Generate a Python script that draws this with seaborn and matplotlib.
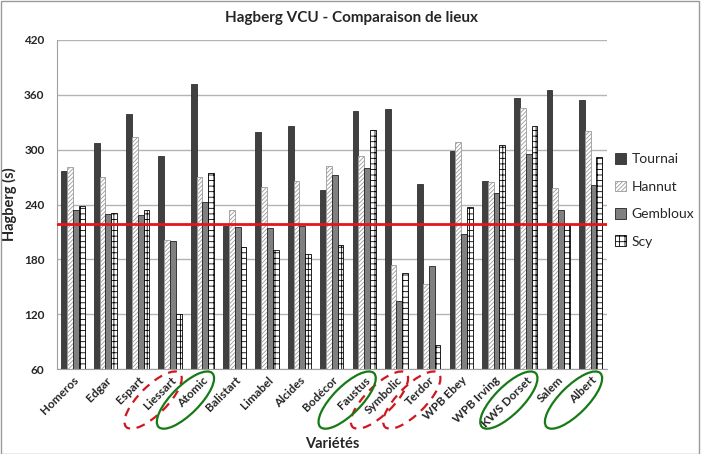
"""
Hagberg VCU - comparaison de lieux
"""
import pandas as pd
import seaborn as sns
import matplotlib.pyplot as plt
from matplotlib.patches import Ellipse
from matplotlib.transforms import ScaledTranslation

varietes = ['Homeros', 'Edgar', 'Espart', 'Liessart', 'Atomic', 'Balistart', 'Limabel',
            'Alcides', 'Bodécor', 'Faustus', 'Symbolic', 'Terdor', 'WPB Ebey',
            'WPB Irving', 'KWS Dorset', 'Salem', 'Albert']
lieux = ['Tournai', 'Hannut', 'Gembloux', 'Scy']

tournai = [277, 307, 339, 293, 372, 217, 319, 326, 256, 342, 345, 262, 298, 266, 357, 365, 354]
hannut = [281, 270, 314, 201, 270, 234, 259, 266, 282, 293, 174, 153, 308, 265, 346, 258, 320]
gembloux = [234, 230, 229, 200, 243, 215, 214, 216, 272, 280, 135, 173, 208, 253, 295, 234, 261]
scy = [238, 231, 234, 120, 274, 193, 190, 186, 196, 322, 165, 86, 237, 305, 326, 219, 292]

seuil = 219
ellipses_rouges = ['Liessart', 'Symbolic', 'Terdor']
ellipses_vertes = ['Atomic', 'Faustus', 'KWS Dorset', 'Albert']

#long table for seaborn
df = pd.DataFrame({
    'variete': varietes * 4,
    'lieu': [l for l in lieux for _ in varietes],
    'hagberg': tournai + hannut + gembloux + scy,
})

sns.set_style('white')
plt.rcParams['font.family'] = ['Lato', 'DejaVu Sans']
plt.rcParams['hatch.linewidth'] = 0.6

fig = plt.figure(figsize=(7.03, 4.54), dpi=100)
ax = fig.add_axes([0.081, 0.187, 0.782, 0.725])

palette = {'Tournai': '#404040', 'Hannut': 'white', 'Gembloux': '#808080', 'Scy': 'white'}
sns.barplot(data=df, x='variete', y='hagberg', hue='lieu', hue_order=lieux, palette=palette,
            width=0.72, gap=0, edgecolor='black', linewidth=0.6, ax=ax, legend=False)

styles = {
    'Tournai': dict(hatch=None, edgecolor='#303030'),
    'Hannut': dict(hatch='////////', edgecolor='#9a9a9a'),
    'Gembloux': dict(hatch=None, edgecolor='#202020'),
    'Scy': dict(hatch='+++', edgecolor='black'),
}
for lieu, cont in zip(lieux, ax.containers):
    for bar in cont:
        bar.set_hatch(styles[lieu]['hatch'])
        bar.set_edgecolor(styles[lieu]['edgecolor'])

ax.axhline(seuil, color='#e8141b', lw=2, zorder=5)

ax.set_ylim(60, 420)
ax.set_yticks(range(60, 421, 60))
ax.set_xlim(-0.5, len(varietes) - 0.5)
ax.yaxis.grid(True, color='#b4b4b4', lw=1)
ax.set_axisbelow(True)
for side in ['top', 'right']:
    ax.spines[side].set_visible(False)
for side in ['left', 'bottom']:
    ax.spines[side].set_color('#a0a0a0')
ax.tick_params(axis='both', length=0, labelsize=8.5)
for lab in ax.get_yticklabels():
    lab.set_fontweight('bold')
ax.tick_params(axis='y', pad=9)
ax.set_xticks(range(len(varietes)))
ax.set_xticklabels(varietes, rotation=45, ha='right', rotation_mode='anchor',
                   fontweight='bold', fontsize=8.5)
ax.tick_params(axis='x', pad=4)

ax.set_xlabel('Variétés', fontsize=10.5, fontweight='bold', labelpad=6)
ax.set_ylabel('Hagberg (s)', fontsize=10.5, fontweight='bold', labelpad=5)
fig.suptitle('Hagberg VCU - Comparaison de lieux', fontsize=11, fontweight='bold', y=0.975)

#ellipses around some labels
for names, color, ls in [(ellipses_rouges, '#d0161e', (0, (4, 3))), (ellipses_vertes, '#167a16', '-')]:
    for name in names:
        i = varietes.index(name)
        trans = fig.dpi_scale_trans + ScaledTranslation(i, 0, ax.get_xaxis_transform())
        e = Ellipse((-0.17, -0.31), 0.76, 0.28, angle=45, transform=trans, fill=False,
                    edgecolor=color, lw=1.6, linestyle=ls, clip_on=False)
        fig.add_artist(e)

handles = [cont.patches[0] for cont in ax.containers]
fig.legend(handles, lieux, loc='upper left', bbox_to_anchor=(0.857, 0.69), frameon=False,
           fontsize=10, labelspacing=1.1, handlelength=0.8, handleheight=0.8, handletextpad=0.4)

#outer chart border
fig.patches.append(plt.Rectangle((0.001, 0.001), 0.994, 0.996, transform=fig.transFigure,
                                 fill=False, edgecolor='#9a9a9a', lw=1))

fig.savefig('out.png', dpi=100)
